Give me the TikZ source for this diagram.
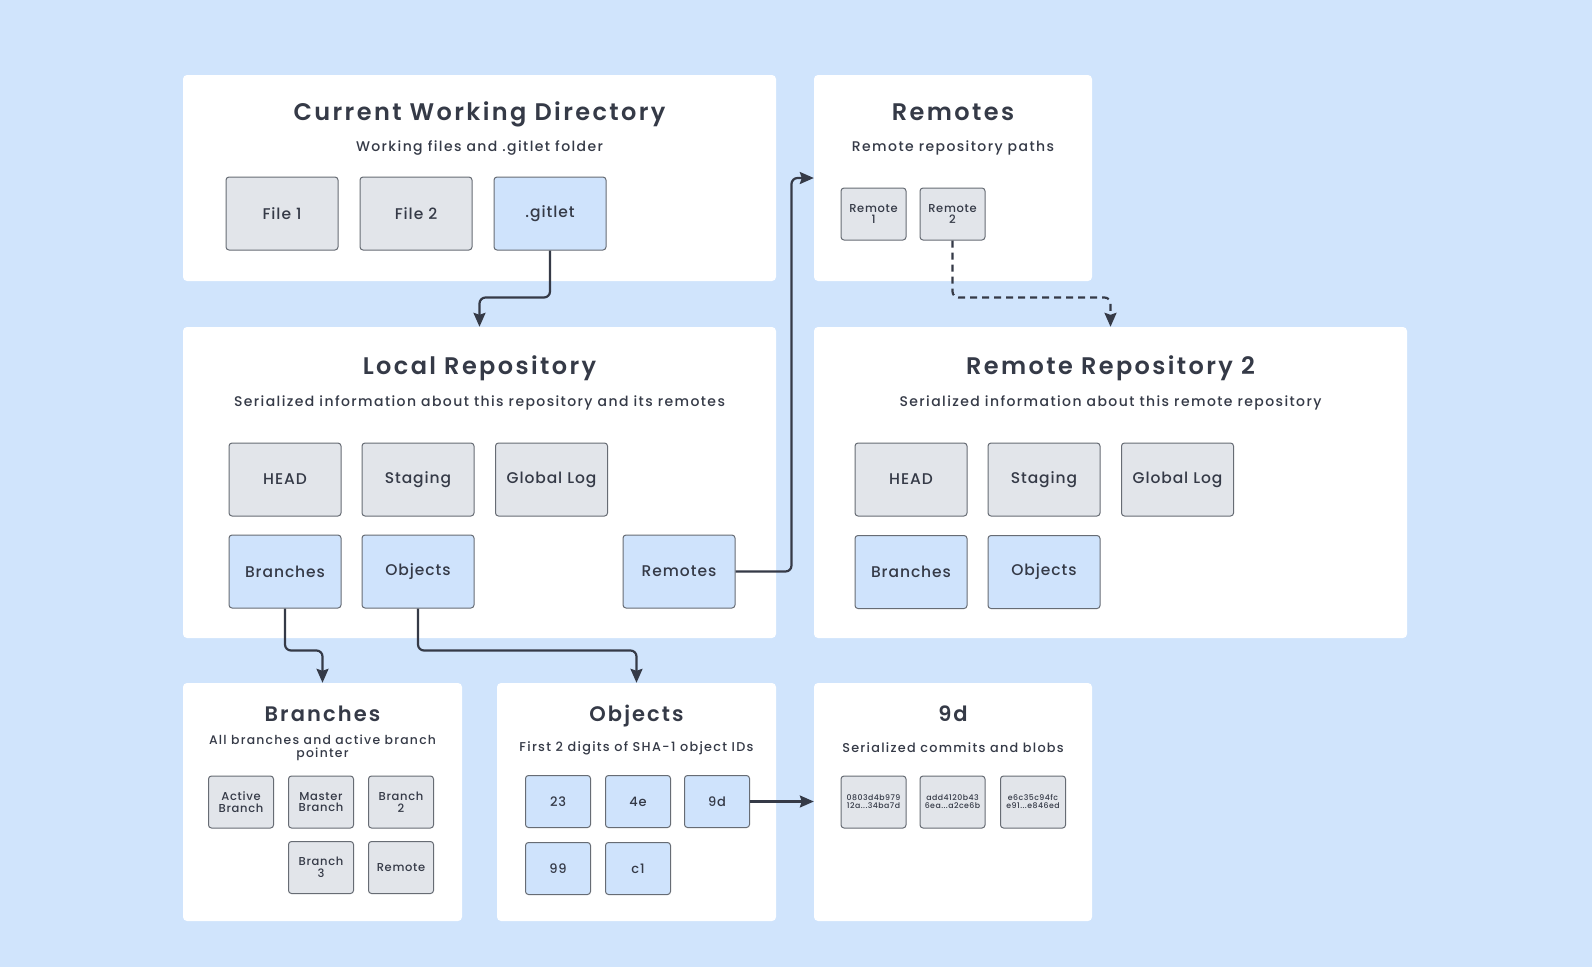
\documentclass[tikz,border=0pt]{standalone}
\usepackage{fontspec}
\setmainfont{Poppins Medium}[LetterSpace=10]
\newfontfamily\medfont{Poppins Medium}[LetterSpace=6]
\newfontfamily\headfont{Poppins SemiBold}[LetterSpace=10]
\usetikzlibrary{arrows.meta}
\definecolor{bgblue}{HTML}{D0E4FC}
\definecolor{boxgray}{HTML}{E2E5EA}
\definecolor{boxblue}{HTML}{CFE3FC}
\definecolor{edgegray}{HTML}{676C74}
\definecolor{ink}{HTML}{353A47}

\begin{document}
\begin{tikzpicture}[x=1pt,y=-1pt]
		\tikzstyle{panel}=[fill=white,rounded corners=4pt,inner sep=0pt]
		\tikzstyle{title}=[font=\headfont\fontsize{24}{28}\selectfont,color=ink,text height=18pt,text depth=6pt]
		\tikzstyle{smalltitle}=[title,font=\headfont\fontsize{21}{24}\selectfont,text height=16pt,text depth=5pt]
		\tikzstyle{subtitle}=[font=\fontsize{14}{14}\selectfont,color=ink,align=center]
		\tikzstyle{smallsub}=[subtitle,font=\fontsize{12.8}{12.5}\selectfont]
		\tikzstyle{item}=[draw=edgegray,line width=1pt,fill=boxgray,rounded corners=3pt,minimum width=112,minimum height=73,font=\medfont\fontsize{15.5}{18}\selectfont,text=ink]
		\tikzstyle{blueitem}=[item,fill=boxblue]
		\tikzstyle{small}=[item,minimum width=65,minimum height=52,font=\medfont\fontsize{11.5}{11.5}\selectfont,align=center]
		\tikzstyle{smallblue}=[small,fill=boxblue,font=\medfont\fontsize{13}{13}\selectfont]
		\tikzstyle{hash}=[small,font=\medfont\fontsize{7.8}{8}\selectfont]
		\tikzstyle{conn}=[draw=ink,line width=2.2pt,rounded corners=6pt,-{Stealth[length=14pt,width=12pt,inset=2pt]}]

		\fill[bgblue] (0,0) rectangle (1592,967);
		\useasboundingbox (0,0) rectangle (1592,967);

		% panels
		\node (cwd) at (479.5,178) [panel,minimum width=593,minimum height=206] {};
		\node (remotes) at (953,178) [panel,minimum width=278,minimum height=206] {};
		\node (localrepo) at (479.5,482.5) [panel,minimum width=593,minimum height=311] {};
		\node (remoterepo) at (1110.5,482.5) [panel,minimum width=593,minimum height=311] {};
		\node (branchpanel) at (322.5,802) [panel,minimum width=279,minimum height=238] {};
		\node (objpanel) at (636.5,802) [panel,minimum width=279,minimum height=238] {};
		\node (ninedpanel) at (953,802) [panel,minimum width=278,minimum height=238] {};

		% titles
		\node (cwdtitle) at (479.5,114) [title] {Current Working Directory};
		\node (cwdsub) at (479.5,148) [subtitle] {Working files and .gitlet folder};
		\node (remtitle) at (953,114) [title] {Remotes};
		\node (remsub) at (953,148) [subtitle] {Remote repository paths};
		\node (loctitle) at (479.5,368) [title] {Local Repository};
		\node (locsub) at (479.5,403) [subtitle] {Serialized information about this repository and its remotes};
		\node (rrtitle) at (1110.5,368) [title] {Remote Repository 2};
		\node (rrsub) at (1110.5,403) [subtitle] {Serialized information about this remote repository};
		\node (brtitle) at (322.5,716) [smalltitle] {Branches};
		\node (brsub) at (322.5,748) [subtitle,font=\fontsize{12.4}{12.5}\selectfont] {All branches and active branch\\pointer};
		\node (objtitle) at (636.5,716) [smalltitle] {Objects};
		\node (objsub) at (636.5,748) [smallsub] {First 2 digits of SHA-1 object IDs};
		\node (ninedtitle) at (953,716) [smalltitle] {9d};
		\node (ninedsub) at (953,748) [smallsub] {Serialized commits and blobs};

		% current working directory
		\node (file1) at (282,213.5) [item] {File 1};
		\node (file2) at (416,213.5) [item] {File 2};
		\node (gitlet) at (550,213.5) [blueitem] {.gitlet};

		% remotes
		\node (remote1) at (873.5,214) [small] {Remote\\1};
		\node (remote2) at (952.5,214) [small] {Remote\\2};

		% local repository
		\node (lhead) at (285,479.5) [item] {HEAD};
		\node (lstaging) at (418,479.5) [item] {Staging};
		\node (lglobal) at (551.5,479.5) [item] {Global Log};
		\node (lbranches) at (285,571.5) [blueitem] {Branches};
		\node (lobjects) at (418,571.5) [blueitem] {Objects};
		\node (lremotes) at (679,571.5) [blueitem] {Remotes};

		% remote repository 2
		\node (rhead) at (911,479.5) [item] {HEAD};
		\node (rstaging) at (1044,479.5) [item] {Staging};
		\node (rglobal) at (1177.5,479.5) [item] {Global Log};
		\node (rbranches) at (911,572) [blueitem] {Branches};
		\node (robjects) at (1044,572) [blueitem] {Objects};

		% branches
		\node (active) at (241,802) [small] {Active\\Branch};
		\node (master) at (321,802) [small] {Master\\Branch};
		\node (branch2) at (401,802) [small] {Branch\\2};
		\node (branch3) at (321,867.5) [small] {Branch\\3};
		\node (bremote) at (401,867.5) [small] {Remote};

		% objects
		\node (o23) at (558,801.5) [smallblue] {23};
		\node (o4e) at (638,801.5) [smallblue] {4e};
		\node (o9d) at (717,801.5) [smallblue] {9d};
		\node (o99) at (558,868.5) [smallblue] {99};
		\node (oc1) at (638,868.5) [smallblue] {c1};

		% 9d
		\node (hash1) at (873.5,802) [hash] {0803d4b979\\12a...34ba7d};
		\node (hash2) at (952.5,802) [hash] {add4120b43\\6ea...a2ce6b};
		\node (hash3) at (1033,802) [hash] {e6c35c94fc\\e91...e846ed};

		\draw[conn] (gitlet.south) -- ++(0,47) -| (localrepo.north);
		\draw[conn] (lremotes.east) -- ++(56,0) |- (remotes.west);
		\draw[conn,dashed,dash pattern=on 7pt off 5pt] (remote2.south) -- ++(0,57) -| (remoterepo.north);
		\draw[conn] (lbranches.south) -- ++(0,42) -| (branchpanel.north);
		\draw[conn] (lobjects.south) -- ++(0,42) -| (objpanel.north);
		\draw[conn] (o9d.east) -- (o9d.east -| ninedpanel.west);
	\end{tikzpicture}
\end{document}
